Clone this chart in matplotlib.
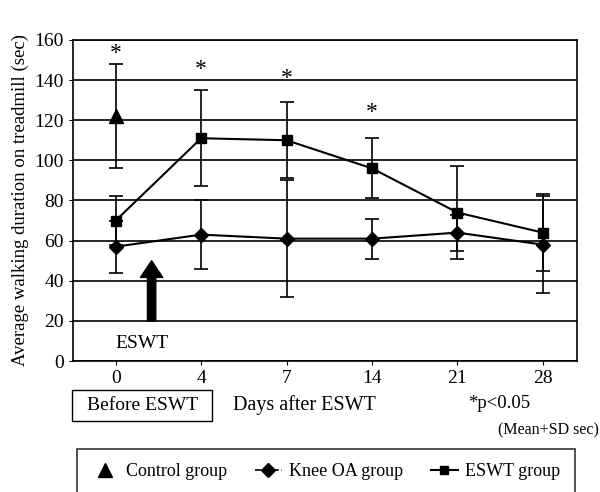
import matplotlib
matplotlib.use("Agg")
import matplotlib.pyplot as plt
from matplotlib.lines import Line2D
from matplotlib.patches import Rectangle

plt.rcParams['font.family'] = ['Liberation Serif', 'DejaVu Serif']

# datos
days = ["0", "4", "7", "14", "21", "28"]
control_mean = [122]
control_sd = [26]
knee_mean = [57, 63, 61, 61, 64, 58]
knee_sd = [13, 17, 29, 10, 9, 24]
eswt_mean = [70, 111, 110, 96, 74, 64]
eswt_sd = [12, 24, 19, 15, 23, 19]
signif_idx = [0, 1, 2, 3]
signif_y = [153, 145, 141, 124]

fig = plt.figure(figsize=(6, 4.92), dpi=100)
ax = fig.add_axes([0.1217, 0.266, 0.84, 0.653])

x = list(range(len(days)))

ax.errorbar(x, knee_mean, yerr=knee_sd, color='black', marker='D', markersize=7,
            linewidth=1.5, elinewidth=1.2, capsize=5, capthick=1.2, zorder=3)
ax.errorbar(x, eswt_mean, yerr=eswt_sd, color='black', marker='s', markersize=7,
            linewidth=1.5, elinewidth=1.2, capsize=5, capthick=1.2, zorder=3)
ax.errorbar([0], control_mean, yerr=control_sd, color='black', marker='^', markersize=10,
            linestyle='none', elinewidth=1.2, capsize=5, capthick=1.2, zorder=3)

for i, yv in zip(signif_idx, signif_y):
    ax.text(i, yv, "*", ha='center', va='center', fontsize=17)

# flecha ESWT
ax.annotate("", xy=(0.42, 50), xytext=(0.42, 20),
            arrowprops=dict(facecolor='black', edgecolor='black', width=6,
                            headwidth=16, headlength=12))
ax.text(0.31, 9, "ESWT", ha='center', va='center', fontsize=14)

ax.set_ylim(0, 160)
ax.set_xlim(-0.5, 5.4)
ax.set_yticks(range(0, 161, 20))
ax.set_xticks(x)
ax.set_xticklabels(days)
ax.tick_params(labelsize=14, direction='out', length=3)
ax.yaxis.grid(True, color='black', linewidth=1.2)
ax.set_axisbelow(True)
for s in ax.spines.values():
    s.set_linewidth(1.2)
ax.set_ylabel("Average walking duration on treadmill (sec)", fontsize=13.5, labelpad=4)

# textos bajo el eje
fig.patches.append(Rectangle((0.12, 1 - 421 / 492), 0.233, 31 / 492, transform=fig.transFigure,
                             facecolor='none', edgecolor='black', linewidth=1))
fig.text(0.237, 1 - 406 / 492, "Before ESWT", ha='center', va='center', fontsize=14)
fig.text(0.508, 0.177, "Days after ESWT", ha='center', va='center', fontsize=14.5)
fig.text(0.832, 0.18, "*p<0.05", ha='center', va='center', fontsize=13.5)
fig.text(0.998, 0.125, "(Mean+SD sec)", ha='right', va='center', fontsize=11.5)

handles = [
    Line2D([], [], color='black', marker='^', linestyle='none', markersize=10),
    Line2D([], [], color='black', marker='D', linestyle='--', markersize=7, linewidth=1.2),
    Line2D([], [], color='black', marker='s', linestyle='-', markersize=6, linewidth=1.5),
]
leg = fig.legend(handles, ["Control group", "Knee OA group", "ESWT group"],
                 loc='upper left', bbox_to_anchor=(0.128, 1 - 449 / 492, 0.83, 0.0), mode='expand',
                 borderaxespad=0, ncol=3, fontsize=13, frameon=True, fancybox=False,
                 edgecolor='black', handlelength=1.5, handletextpad=0.4, borderpad=0.8,
                 columnspacing=1.0)
leg.get_frame().set_linewidth(1.2)

fig.savefig("out.png", dpi=100)
